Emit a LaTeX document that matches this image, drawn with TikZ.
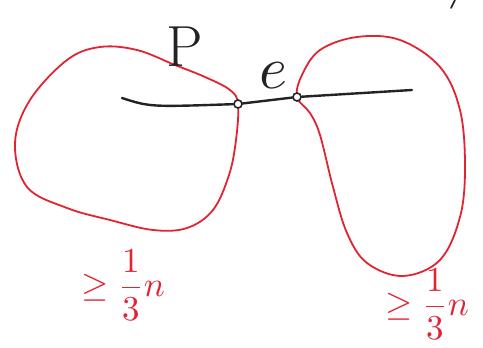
\documentclass[tikz,border=0pt]{standalone}
\usepackage{amsmath,amssymb}
\usetikzlibrary{positioning}
\definecolor{penred}{RGB}{226,35,50}
\definecolor{penblack}{RGB}{35,35,35}
\begin{document}
\begin{tikzpicture}[x=1pt, y=-1pt,
  part/.style={draw=penred, line width=1.8pt, line join=round},
  cut/.style={draw=penblack, line width=2.4pt, line cap=round},
  vtx/.style={circle, draw=penblack, fill=white, line width=1.6pt, inner sep=0pt, minimum size=8pt},
  lbl/.style={text=penred, scale=3.5, inner sep=0pt, anchor=south}]
  \useasboundingbox (0,0) rectangle (483,348);
  \draw[part] plot[smooth cycle, tension=0.6] coordinates {
    (238,104) (236,140) (229,175) (213,210) (187,228) (153,230) (110,220)
    (67,208) (27,187) (15,143) (30,100) (67,60) (100,47) (137,50)
    (175,65) (205,77) (230,90)};
  \draw[part] plot[smooth cycle, tension=0.6] coordinates {
    (297,97) (310,113) (320,135) (333,187) (347,233) (367,263) (403,276)
    (440,260) (460,217) (465,167) (460,110) (440,67) (400,40) (357,37)
    (320,50) (302,75)};
  \node[vtx] (u) at (238,104) {};
  \node[vtx] (v) at (297,97) {};
  \coordinate (l) at (122,98);
  \coordinate (r) at (412,90);
  \draw[cut] (l) .. controls (150,107) .. (u);
  \draw[cut] (u) -- node[above=5pt, xshift=6pt, scale=6, inner sep=0pt, text=penblack] (e) {$e$} (v);
  \draw[cut] (v) -- (r);
  \node[anchor=south west, inner sep=0pt, text=penblack, font=\fontsize{58}{60}\selectfont] (P) at (166,67) {P};
  \draw[cut, line width=1.6pt] (455,0) -- (451,8);
  \node[lbl] (left) at (123,321) {$\geq\dfrac{1}{3}n$};
  \node[lbl] (right) at (427,340) {$\geq\dfrac{1}{3}n$};
\end{tikzpicture}
\end{document}
